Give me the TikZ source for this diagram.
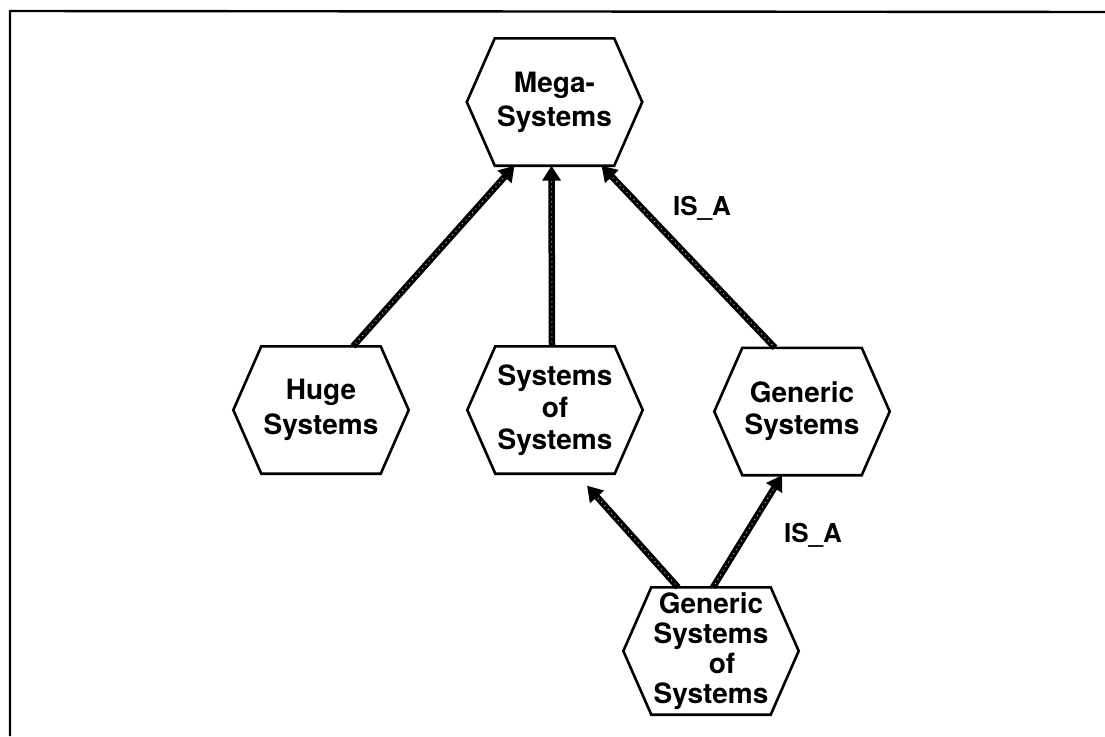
\documentclass[tikz,border=0pt]{standalone}
\usepackage{fontspec}
\setmainfont{TeX Gyre Heros}
\usetikzlibrary{arrows.meta}
\begin{document}
\begin{tikzpicture}[x=1pt,y=-1pt,
  hexbox/.style={minimum width=175pt, minimum height=127pt, inner sep=0pt,
    align=center, font=\fontsize{28}{32}\selectfont\bfseries},
  hexline/.style={draw=black, line width=2.6pt, line join=miter},
  isa/.style={draw=black, line width=6.5pt,
    -{Triangle[length=15pt,width=18pt]},
    postaction={draw=gray!50, line width=1pt, dash pattern=on 1pt off 4pt, -, shorten >=14pt, shorten <=4pt}},
  lbl/.style={font=\fontsize{26}{30}\selectfont\bfseries, inner sep=0pt},
  frameline/.style={draw=black, line width=2.4pt}]
\useasboundingbox (0,0) rectangle (1105,736);
\fill[white] (0,0) rectangle (1105,736);

% outer frame (left and top edges)
\coordinate (fbl) at (10,736);
\coordinate (ftl) at (10,11);
\coordinate (ftr) at (1105,12);
\draw[frameline] (fbl) -- (ftl) -- (ftr);

% concept hexagons
\node[hexbox] (mega) at (554.5,102) {Mega-\\[2pt]Systems};
\node[hexbox] (huge) at (321,410) {Huge\\[3pt]Systems};
\node[hexbox] (sos)  at (555,410) {Systems\\of\\Systems};
\node[hexbox] (gen)  at (802,411.5) {Generic\\Systems};
\node[hexbox, font=\fontsize{28}{30}\selectfont\bfseries] (gsos) at (711,651) {Generic\\Systems\\\hspace*{22pt}of\\Systems};

\foreach \n in {mega,huge,sos,gen,gsos}
  \draw[hexline] (\n.west) -- ([xshift=28pt]\n.north west) -- ([xshift=-28pt]\n.north east)
    -- (\n.east) -- ([xshift=-28pt]\n.south east) -- ([xshift=28pt]\n.south west) -- cycle;

% generalisation links
\draw[isa] ([xshift=32pt]huge.north) -- ([xshift=-40pt]mega.south);
\draw[isa] ([xshift=-3pt]sos.north) -- ([xshift=-3pt]mega.south);
\draw[isa] ([xshift=-27pt]gen.north) -- ([xshift=47pt]mega.south);
\draw[isa] ([xshift=-33pt]gsos.north) -- ([xshift=32pt,yshift=-12pt]sos.south);
\draw[isa] ([xshift=2pt]gsos.north) -- ([xshift=-20pt]gen.south);

% link labels
\node[lbl] (isa1) at (702,208) {IS\_A};
\node[lbl] (isa2) at (813,535) {IS\_A};
\end{tikzpicture}
\end{document}
